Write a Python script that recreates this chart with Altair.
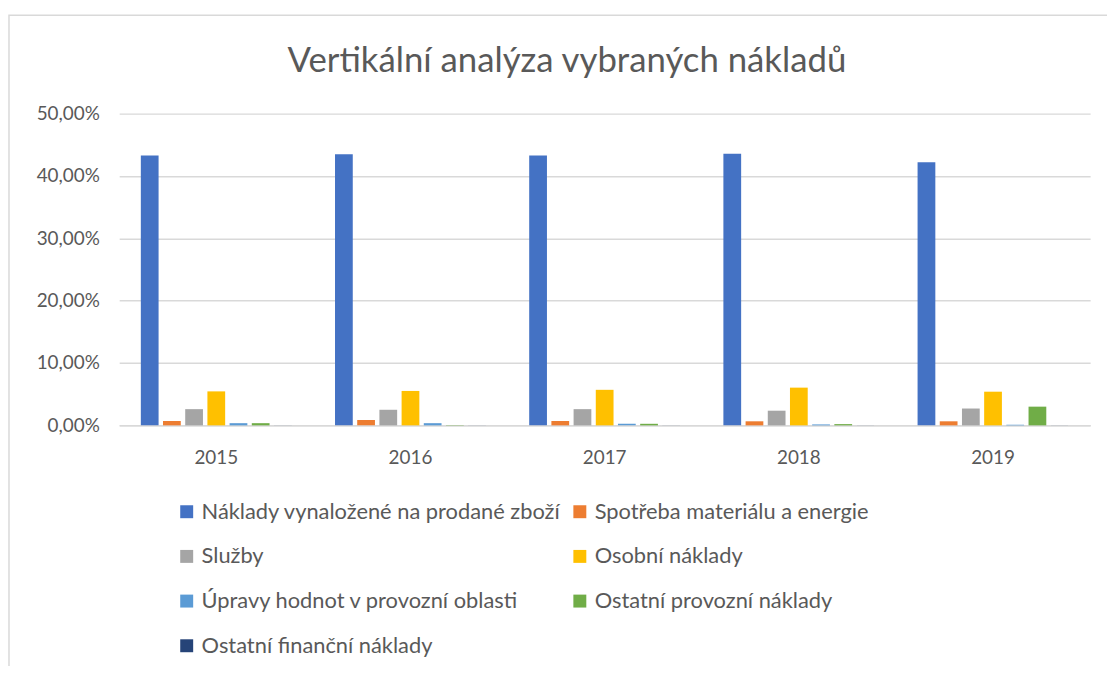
import altair as alt
import pandas as pd

years = ["2015", "2016", "2017", "2018", "2019"]
series = [
    "Náklady vynaložené na prodané zboží",
    "Spotřeba materiálu a energie",
    "Služby",
    "Osobní náklady",
    "Úpravy hodnot v provozní oblasti",
    "Ostatní provozní náklady",
    "Ostatní finanční náklady",
]
colors = ["#4472C4", "#ED7D31", "#A5A5A5", "#FFC000", "#5B9BD5", "#70AD47", "#264478"]

naklady_zbozi = [0.4327, 0.4347, 0.4327, 0.4358, 0.4220]
spotreba = [0.0070, 0.0085, 0.0070, 0.0065, 0.0065]
sluzby = [0.0260, 0.0250, 0.0260, 0.0235, 0.0270]
osobni = [0.0545, 0.0552, 0.0570, 0.0605, 0.0540]
upravy = [0.0035, 0.0035, 0.0025, 0.0015, 0.0010]
ostatni_provozni = [0.0035, -0.0005, 0.0025, 0.0020, 0.0300]
ostatni_financni = [0.0001, 0.0001, 0.0001, 0.0001, 0.0001]

vals = [naklady_zbozi, spotreba, sluzby, osobni, upravy, ostatni_provozni, ostatni_financni]
rows = []
for s, v in zip(series, vals):
    for y, x in zip(years, v):
        rows.append({"rok": y, "polozka": s, "hodnota": x})
df = pd.DataFrame(rows)

FONT = "Lato"
TXT = "#595959"

bars = alt.Chart(df).mark_bar().encode(
    x=alt.X("rok:N", sort=years, title=None,
            scale=alt.Scale(paddingInner=0.2, paddingOuter=0.1),
            axis=alt.Axis(labelAngle=0, ticks=False, labelPadding=23, labelFontSize=19,
                          labelColor=TXT, labelFont=FONT, domainColor="#d9d9d9", domainWidth=1.5)),
    xOffset=alt.XOffset("polozka:N", sort=series,
                        scale=alt.Scale(paddingInner=0.2, paddingOuter=0.1)),
    y=alt.Y("hodnota:Q", title=None,
            scale=alt.Scale(domain=[0, 0.5], nice=False),
            axis=alt.Axis(values=[0, 0.1, 0.2, 0.3, 0.4, 0.5], domain=False, ticks=False,
                          labelExpr="replace(format(datum.value, '.2%'), '.', ',')",
                          labelPadding=20, labelFontSize=19, labelColor=TXT, labelFont=FONT,
                          gridColor="#d9d9d9", gridWidth=1.5)),
    color=alt.Color("polozka:N", sort=series, title=None,
                    scale=alt.Scale(domain=series, range=colors),
                    legend=alt.Legend(orient="none", legendX=57, legendY=390, columns=2,
                                      direction="horizontal",
                                      columnPadding=8, rowPadding=23, symbolType="square",
                                      symbolSize=170, symbolStrokeWidth=0, labelFontSize=22,
                                      labelColor=TXT, labelFont=FONT, labelLimit=600,
                                      symbolOffset=0)),
)

frame = alt.Chart(pd.DataFrame({"a": [0]})).mark_rect(
    fill=None, stroke="#d9d9d9", strokeWidth=1.5
).encode(x=alt.value(-111), x2=alt.value(1300), y=alt.value(-99), y2=alt.value(1000))

chart = alt.layer(frame, bars).properties(
    width=978, height=314,
    title=alt.TitleParams("Vertikální analýza vybraných nákladů", fontSize=35, font=FONT,
                          color=TXT, fontWeight="normal", dx=-38, offset=-65),
    autosize=alt.AutoSizeParams(type="none"),
    padding={"left": 112, "top": 104, "right": 17, "bottom": 240},
).configure_view(stroke=None)

chart.save("out.html", embed_options={"renderer": "svg", "actions": False})
